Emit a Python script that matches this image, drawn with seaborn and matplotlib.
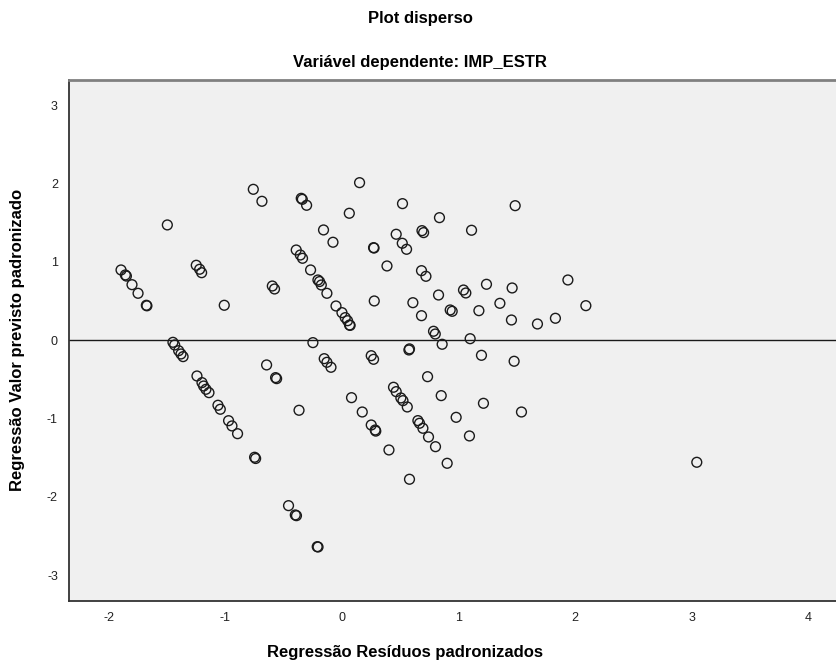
import matplotlib
matplotlib.use("Agg")
import matplotlib.pyplot as plt
import seaborn as sns
import pandas as pd

residuals = [
    -1.894, -1.857, -1.848, -1.800, -1.748, -1.677, -1.672, -1.497, -1.249, -1.220,
    -1.203, -1.009, -0.760, -0.686, -0.597, -0.578, -0.349, -0.340, -0.303, -0.392,
    -0.357, -0.338, -0.269, -0.206, -0.192, -0.177, -0.129, -0.158, -0.077, 0.151,
    0.063, 0.519, 0.836, 1.485, 1.111, 0.686, 0.700, 0.465, 0.517, 0.554,
    0.271, 0.275, 0.386, 0.682, 0.720, 1.937, 1.239, 1.459, 1.042, 1.062,
    0.828, -0.051, 0.000, 0.028, 0.048, 0.065, 0.070, 0.277, 0.608, 0.682,
    1.354, 2.091, 0.928, 0.945, 1.174, 1.453, 1.676, 1.830, 0.785, 0.800,
    0.859, 1.099, 0.574, 0.579, -1.449, -1.434, -1.400, -1.380, -1.362, -1.243,
    -1.200, -1.186, -1.166, -1.140, -1.063, -1.043, -0.972, -0.943, -0.895, -0.749,
    -0.740, -0.646, -0.569, -0.560, -0.368, -0.458, -0.400, -0.390, -0.212, -0.205,
    -0.249, -0.152, -0.129, -0.094, 0.251, 0.271, 1.196, 1.476, 0.734, 0.082,
    0.174, 0.251, 0.285, 0.290, 0.403, 0.442, 0.465, 0.505, 0.523, 0.560,
    0.851, 1.213, 1.539, 0.979, 0.651, 0.665, 0.694, 0.742, 0.802, 1.093,
    0.902, 0.579, 3.042,
]
predicted = [
    0.898, 0.834, 0.820, 0.710, 0.600, 0.447, 0.440, 1.473, 0.958, 0.907,
    0.863, 0.447, 1.928, 1.775, 0.693, 0.655, 1.813, 1.800, 1.724, 1.153,
    1.089, 1.047, 0.898, 0.770, 0.750, 0.706, 0.600, 1.409, 1.252, 2.013,
    1.622, 1.745, 1.566, 1.719, 1.405, 1.400, 1.375, 1.354, 1.239, 1.162,
    1.183, 1.178, 0.949, 0.889, 0.817, 0.770, 0.715, 0.668, 0.642, 0.604,
    0.578, 0.438, 0.353, 0.289, 0.250, 0.195, 0.190, 0.502, 0.480, 0.314,
    0.472, 0.442, 0.387, 0.370, 0.378, 0.259, 0.208, 0.281, 0.115, 0.080,
    -0.051, 0.020, -0.124, -0.110, -0.026, -0.060, -0.133, -0.175, -0.209, -0.456,
    -0.541, -0.584, -0.626, -0.669, -0.830, -0.881, -1.027, -1.094, -1.193, -1.494,
    -1.510, -0.315, -0.477, -0.490, -0.894, -2.112, -2.231, -2.240, -2.636, -2.640,
    -0.030, -0.235, -0.281, -0.345, -0.197, -0.243, -0.192, -0.268, -0.465, -0.733,
    -0.916, -1.082, -1.146, -1.160, -1.401, -0.600, -0.656, -0.737, -0.771, -0.852,
    -0.707, -0.805, -0.916, -0.984, -1.026, -1.060, -1.124, -1.235, -1.359, -1.222,
    -1.571, -1.775, -1.558,
]
x_ticks = [-2, -1, 0, 1, 2, 3, 4]
y_ticks = [-3, -2, -1, 0, 1, 2, 3]

title = "Plot disperso"
subtitle = "Variável dependente: IMP_ESTR"
x_label = "Regressão Resíduos padronizados"
y_label = "Regressão Valor previsto padronizado"

df = pd.DataFrame({"res": residuals, "pred": predicted})

sns.set_style("white")
plt.rcParams["font.family"] = ["Liberation Sans", "DejaVu Sans"]

W, H = 837, 668
fig = plt.figure(figsize=(W / 100, H / 100), dpi=100)
fig.patch.set_facecolor("white")
left, right, top, bottom = 69, 837, 80, 600.7
ax = fig.add_axes([left / W, 1 - bottom / H, (right - left) / W, (bottom - top) / H])
ax.set_facecolor("#f0f0f0")

sns.scatterplot(data=df, x="res", y="pred", ax=ax, s=50, facecolor="none",
                edgecolor="#1a1a1a", linewidth=1.0, marker="o", zorder=3)
ax.axhline(0, color="#1a1a1a", linewidth=1.0, zorder=2)

ax.set_xlim(-2.34, 4.244)
ax.set_ylim(-3.326, 3.324)
ax.set_xticks(x_ticks)
ax.set_yticks(y_ticks)
ax.set_xticklabels([str(t) for t in x_ticks])
ax.set_yticklabels([str(t) for t in y_ticks])
ax.tick_params(axis="both", direction="out", length=5, width=1.2, color="#333333",
               labelsize=9, labelcolor="#222222", pad=3)

for s in ["left", "bottom"]:
    ax.spines[s].set_color("#333333")
    ax.spines[s].set_linewidth(1.3)
ax.spines["right"].set_visible(False)
ax.spines["top"].set_color("#808080")
ax.spines["top"].set_linewidth(2.0)

ax.set_xlabel("")
ax.set_ylabel("")
fig.text(405 / W, 1 - 653 / H, x_label, ha="center", va="center",
         fontsize=12, fontweight="bold", color="black")
fig.text(18 / W, 1 - 340 / H, y_label, ha="center", va="center",
         fontsize=12, fontweight="bold", rotation=90, color="black")
fig.text(420 / W, 1 - 18 / H, title, ha="center", va="center",
         fontsize=12, fontweight="bold", color="black")
fig.text(420 / W, 1 - 62 / H, subtitle, ha="center", va="center",
         fontsize=12, fontweight="bold", color="black")

fig.savefig("out.png", dpi=100)
